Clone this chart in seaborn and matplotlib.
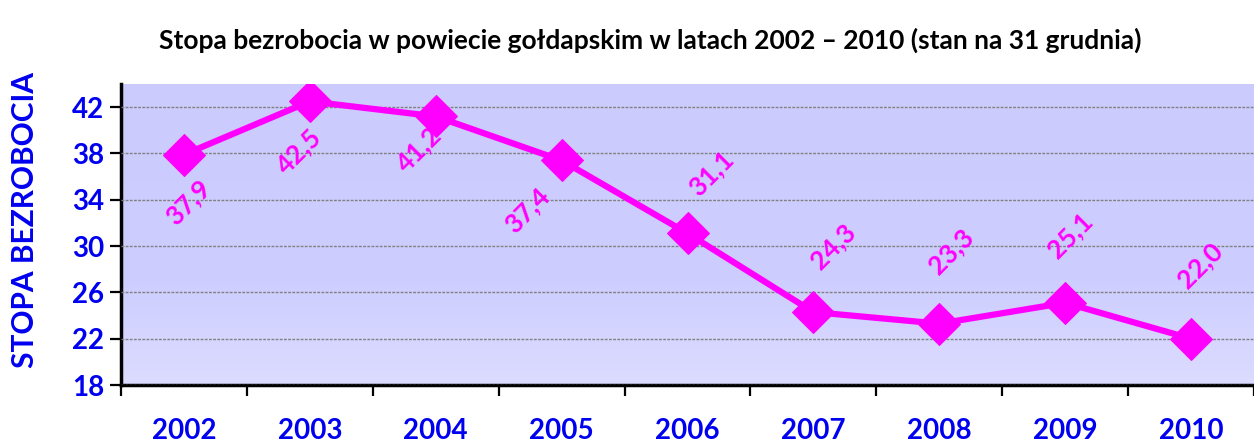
import numpy as np
import matplotlib
matplotlib.use("Agg")
import matplotlib.pyplot as plt
from matplotlib.ticker import FixedLocator
import seaborn as sns

# data
years = ["2002", "2003", "2004", "2005", "2006", "2007", "2008", "2009", "2010"]
rates = [37.9, 42.5, 41.2, 37.4, 31.1, 24.3, 23.3, 25.1, 22.0]
y_ticks = [18, 22, 26, 30, 34, 38, 42]

# label offsets in pixels (dx, dy) relative to each point
label_offsets = [(4, -48), (-11, -50), (-17, -33), (-35, -50), (24, 60),
                 (20, 66), (12, 72), (5, 68), (9, 74)]

sns.set_style("white")
plt.rcParams["font.family"] = ["Lato", "DejaVu Sans"]

blue = "#0000F0"
pink = "#FF00FF"

fig = plt.figure(figsize=(12.54, 4.44), dpi=100)
ax = fig.add_axes([121 / 1254, 1 - 385 / 444, 1 - 121 / 1254, (385 - 84) / 444])

# gradient background
grad = np.linspace(0, 1, 256).reshape(-1, 1)
cmap = matplotlib.colors.LinearSegmentedColormap.from_list(
    "bg", [(0, "#DCDCFF"), (0.35, "#CDCDFF"), (1, "#CBCBFD")])
ax.imshow(grad, aspect="auto", cmap=cmap, origin="lower",
          extent=[-0.5, 8.5, 18, 44], zorder=0)

sns.lineplot(x=years, y=rates, ax=ax, color=pink, linewidth=4.5, marker="D",
             markersize=21, markeredgecolor=pink, sort=False, zorder=3)

for i, (yr, v) in enumerate(zip(years, rates)):
    dx, dy = label_offsets[i]
    ax.annotate(f"{v:.1f}".replace(".", ","), xy=(i, v), xytext=(dx, dy),
                textcoords="offset pixels", ha="center", va="center",
                rotation=45, color=pink, fontsize=19, fontweight="bold", zorder=4)

ax.set_xlim(-0.5, 8.5)
ax.set_ylim(18, 44)
ax.set_yticks(y_ticks)
ax.yaxis.grid(True, color="#808080", linestyle=(0, (2, 1)), linewidth=1)
ax.set_axisbelow(False)
for ln in ax.get_ygridlines():
    ln.set_zorder(1)

ax.set_xticks(range(len(years)))
ax.set_xticklabels(years)
ax.xaxis.set_minor_locator(FixedLocator(np.arange(-0.5, 8.6, 1)))
ax.tick_params(axis="x", which="both", bottom=True)
ax.tick_params(axis="x", which="major", length=0, pad=24, labelsize=20, labelcolor=blue)
ax.tick_params(axis="x", which="minor", length=8, width=1.6, color="black", direction="out")
ax.tick_params(axis="y", left=True, length=8, width=1.6, color="black", direction="out",
               labelsize=20, labelcolor=blue, pad=4)
for t in ax.get_xticklabels() + ax.get_yticklabels():
    t.set_fontweight("bold")

for s in ["top", "right"]:
    ax.spines[s].set_visible(False)
for s in ["left", "bottom"]:
    ax.spines[s].set_color("black")
    ax.spines[s].set_linewidth(2.5)

ax.set_xlabel("")
ax.set_ylabel("STOPA BEZROBOCIA", color=blue, fontsize=21.5, fontweight="bold")
ax.yaxis.set_label_coords(-0.072, 0.548)

fig.text(650 / 1254, 1 - 40 / 444, "Stopa bezrobocia w powiecie gołdapskim w latach 2002 – 2010 (stan na 31 grudnia)",
         ha="center", va="center", fontsize=19, fontweight="bold", color="black")

fig.savefig("out.png", dpi=100)
